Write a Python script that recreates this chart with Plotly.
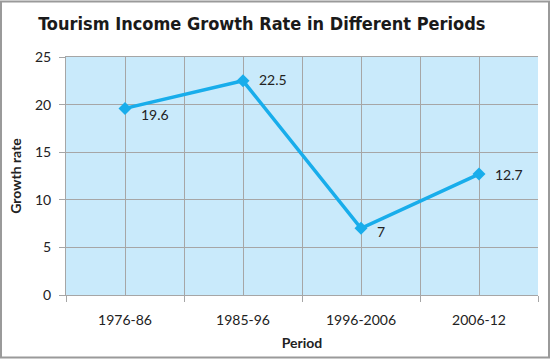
import plotly.graph_objects as go

periods = ["1976-86", "1985-96", "1996-2006", "2006-12"]
growth_rate = [19.6, 22.5, 7, 12.7]
y_ticks = [0, 5, 10, 15, 20, 25]

W, H = 550, 361
ml, mr, mt, mb = 66, 12, 57, 64
pw, ph = W - ml - mr, H - mt - mb

idx = list(range(len(periods)))
label_font = "Lato, 'Open Sans', sans-serif"
label_yshift = [-6, 1, -3, 0]

fig = go.Figure()
fig.add_trace(go.Scatter(
    x=idx, y=growth_rate,
    mode="lines+markers",
    line=dict(color="#18ADEB", width=3.5),
    marker=dict(symbol="diamond", size=10, color="#18ADEB"),
    showlegend=False,
))

for xi, v, ys in zip(idx, growth_rate, label_yshift):
    fig.add_annotation(x=xi, y=v, text=f"{v:g}", showarrow=False,
                       xanchor="left", yanchor="middle", xshift=14, yshift=ys,
                       font=dict(family=label_font, size=14, color="#222222"))

fig.update_layout(
    width=W, height=H,
    margin=dict(l=ml, r=mr, t=mt, b=mb),
    paper_bgcolor="white",
    plot_bgcolor="#C9EAFB",
    title=dict(
        text="<b>Tourism Income Growth Rate in Different Periods</b>",
        font=dict(family="'DejaVu Sans Condensed', 'Liberation Sans Narrow', sans-serif", size=18, color="#1a1a1a"),
        x=0.476, xanchor="center", y=0.933, yanchor="middle",
    ),
    xaxis=dict(
        range=[-0.5, len(periods) - 0.5],
        tickmode="array", tickvals=idx, ticktext=periods,
        ticks="", showgrid=True, gridcolor="#A6A6A6", gridwidth=1,
        tickfont=dict(family=label_font, size=14, color="#222222"),
        ticklabelstandoff=12,
        showline=True, linecolor="#A6A6A6", linewidth=1, mirror=True,
        zeroline=False,
        minor=dict(tick0=0.5, dtick=1, ticks="outside", ticklen=6,
                   tickcolor="#A6A6A6", showgrid=True, gridcolor="#A6A6A6", gridwidth=1),
        title=dict(text="<b>Period</b>", font=dict(family=label_font, size=14, color="#222222"), standoff=11),
        fixedrange=True,
    ),
    yaxis=dict(
        range=[0, 25], tickmode="array", tickvals=y_ticks,
        ticks="outside", ticklen=6, tickcolor="#A6A6A6",
        ticklabelstandoff=5,
        showgrid=True, gridcolor="#A6A6A6", gridwidth=1,
        showline=True, linecolor="#A6A6A6", linewidth=1,
        zeroline=False,
        tickfont=dict(family=label_font, size=14, color="#222222"),
        title=dict(text="<b>Growth rate</b>", font=dict(family=label_font, size=14, color="#222222"), standoff=10),
        fixedrange=True,
    ),
)

# outer border of the image
fig.add_shape(type="rect", xref="paper", yref="paper",
              x0=(-ml + 1) / pw, x1=1 + (mr - 1) / pw,
              y0=(-mb + 1) / ph, y1=1 + (mt - 1) / ph,
              line=dict(color="#9A9A9A", width=2), layer="above")

fig.write_html("out.html", config={"displayModeBar": False},
               post_script="document.body.style.margin='0';")
